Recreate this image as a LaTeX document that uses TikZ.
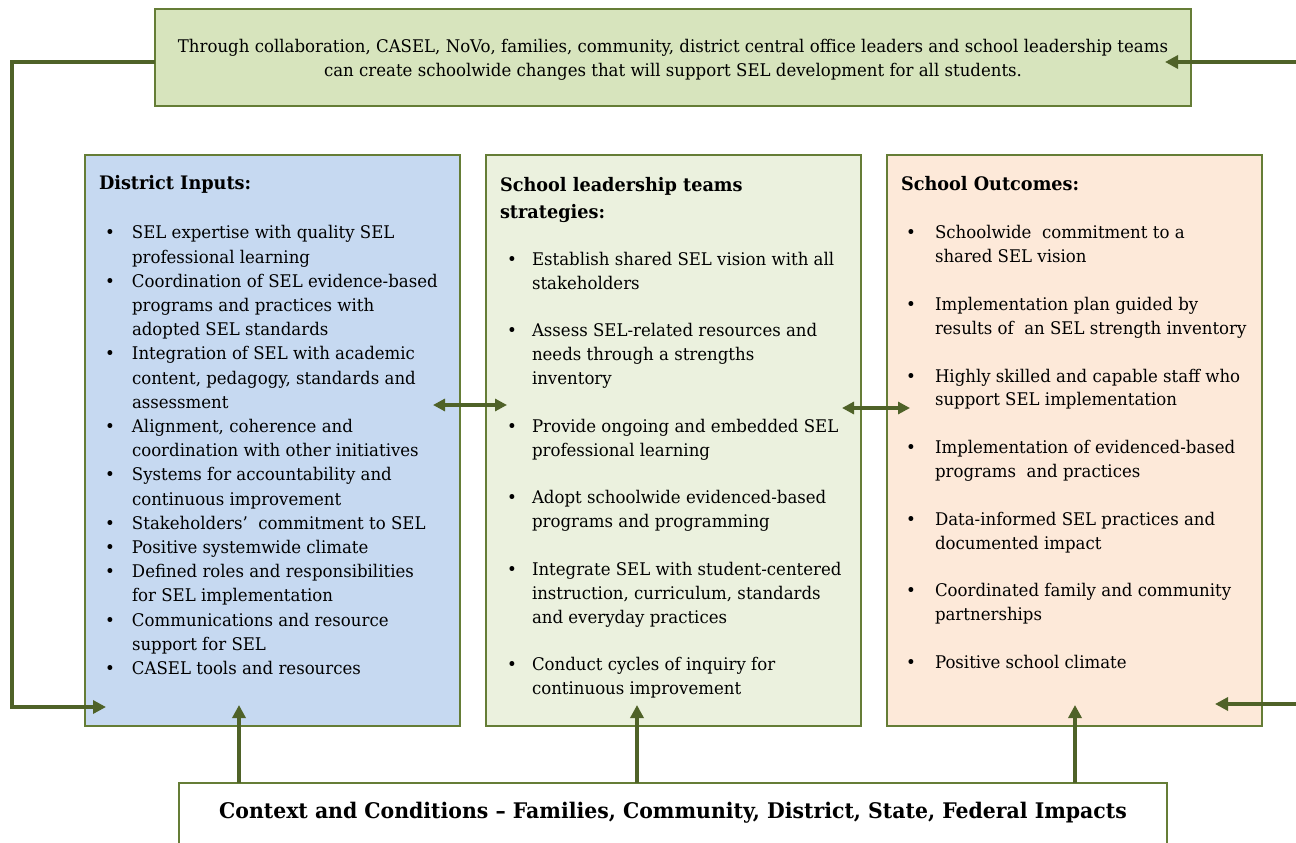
\documentclass[tikz,border=0pt]{standalone}
\usepackage{fontspec}
\setmainfont{DejaVu Serif}[FakeStretch=0.95]
\usetikzlibrary{arrows.meta}
\definecolor{bordc}{HTML}{657D36}
\definecolor{arrc}{HTML}{4F6228}
\definecolor{topfill}{HTML}{D7E4BD}
\definecolor{bluefill}{HTML}{C6D9F1}
\definecolor{greenfill}{HTML}{EBF1DE}
\definecolor{peachfill}{HTML}{FDE9D9}
\newcommand\bi[2]{\hspace*{#1pt}\makebox[#2pt][l]{•}}
\newcommand\bc[1]{\hspace*{#1pt}}
\newcommand\ttl[1]{{\fontsize{18.6}{24}\selectfont\bfseries #1}}
\tikzset{
  panel/.style={draw=bordc, line width=1.6pt, inner sep=0pt, outer sep=0pt, anchor=north west},
  conn/.style={draw=arrc, line width=4.2pt},
  tipend/.style={-{Triangle[length=13pt,width=13pt]}},
  bothends/.style={{Triangle[length=12pt,width=12pt]}-{Triangle[length=12pt,width=12pt]}},
  body/.style={align=left, inner sep=0pt, outer sep=0pt, anchor=base west},
}
\begin{document}
\begin{tikzpicture}[x=1pt,y=-1pt]
\useasboundingbox (0,0) rectangle (1296,843);
% boxes
\node[panel, fill=topfill, minimum width=1036pt, minimum height=97pt] (top) at (155,9) {};
\node[align=center, inner sep=0pt, font=\fontsize{17.45}{24}\selectfont] (toptext) at (673,60)
  {Through collaboration, CASEL, NoVo, families, community, district central office leaders and school leadership teams\\
   can create schoolwide changes that will support SEL development for all students.};
\node[panel, fill=bluefill, minimum width=375pt, minimum height=571pt] (din) at (85,155) {};
\node[panel, fill=greenfill, minimum width=375pt, minimum height=571pt] (sls) at (486,155) {};
\node[panel, fill=peachfill, minimum width=375pt, minimum height=571pt] (sout) at (887,155) {};
\node[panel, fill=white, line width=1.3pt, minimum width=988pt, minimum height=80pt] (ctx) at (179,783) {};
\node[inner sep=0pt, font=\fontsize{21.5}{24}\selectfont\bfseries] (ctxtext) at (673,813)
  {Context and Conditions – Families, Community, District, State, Federal Impacts};
% box 1 text (anchored at the baseline of its last line)
\node[body, font=\fontsize{17.45}{24.2}\selectfont] (dintext) at (99,674.5)
 {\ttl{District Inputs:}\\[25pt]
  \bi{6}{27}SEL expertise with quality SEL\\
  \bc{33}professional learning\\
  \bi{6}{27}Coordination of SEL evidence-based\\
  \bc{33}programs and practices with\\
  \bc{33}adopted SEL standards\\
  \bi{6}{27}Integration of SEL with academic\\
  \bc{33}content, pedagogy, standards and\\
  \bc{33}assessment\\
  \bi{6}{27}Alignment, coherence and\\
  \bc{33}coordination with other initiatives\\
  \bi{6}{27}Systems for accountability and\\
  \bc{33}continuous improvement\\
  \bi{6}{27}Stakeholders’\ \ commitment to SEL\\
  \bi{6}{27}Positive systemwide climate\\
  \bi{6}{27}Defined roles and responsibilities\\
  \bc{33}for SEL implementation\\
  \bi{6}{27}Communications and resource\\
  \bc{33}support for SEL\\
  \bi{6}{27}CASEL tools and resources};
% box 2 text
\node[body, font=\fontsize{17.45}{24}\selectfont] (slstext) at (500,694.5)
 {\ttl{School leadership teams}\\[3pt]
  \ttl{strategies:}\\[23pt]
  \bi{7}{25}Establish shared SEL vision with all\\
  \bc{32}stakeholders\\[23.5pt]
  \bi{7}{25}Assess SEL-related resources and\\
  \bc{32}needs through a strengths\\
  \bc{32}inventory\\[23.5pt]
  \bi{7}{25}Provide ongoing and embedded SEL\\
  \bc{32}professional learning\\[23.5pt]
  \bi{7}{25}Adopt schoolwide evidenced-based\\
  \bc{32}programs and programming\\[23.5pt]
  \bi{7}{25}Integrate SEL with student-centered\\
  \bc{32}instruction, curriculum, standards\\
  \bc{32}and everyday practices\\[23.5pt]
  \bi{7}{25}Conduct cycles of inquiry for\\
  \bc{32}continuous improvement};
% box 3 text
\node[body, font=\fontsize{17.45}{23.8}\selectfont] (souttext) at (901,668.5)
 {\ttl{School Outcomes:}\\[24.5pt]
  \bi{5}{29}Schoolwide\ \ commitment to a\\
  \bc{34}shared SEL vision\\[24pt]
  \bi{5}{29}Implementation plan guided by\\
  \bc{34}results of\ \ an SEL strength inventory\\[24pt]
  \bi{5}{29}Highly skilled and capable staff who\\
  \bc{34}support SEL implementation\\[24pt]
  \bi{5}{29}Implementation of evidenced-based\\
  \bc{34}programs\ \ and practices\\[24pt]
  \bi{5}{29}Data-informed SEL practices and\\
  \bc{34}documented impact\\[24pt]
  \bi{5}{29}Coordinated family and community\\
  \bc{34}partnerships\\[24pt]
  \bi{5}{29}Positive school climate};
% connector coordinates
\coordinate (lcorner1) at (12,62);
\coordinate (lcorner2) at (12,707);
\coordinate (ltip) at (106,707);
\coordinate (rtopstart) at (1296,62);
\coordinate (rtoptip) at (1165,62);
\coordinate (rbotstart) at (1296,704);
\coordinate (rbottip) at (1215,704);
\coordinate (up1) at (239,705);
\coordinate (up2) at (637,705);
\coordinate (up3) at (1075,705);
\coordinate (da1) at (433,405);
\coordinate (db1) at (507,405);
\coordinate (da2) at (842,408);
\coordinate (db2) at (910,408);
% connectors
\draw[conn, tipend] (top.west |- lcorner1) -- (lcorner1) -- (lcorner2) -- (ltip);
\draw[conn, tipend] (rtopstart) -- (rtoptip);
\draw[conn, tipend] (rbotstart) -- (rbottip);
\draw[conn, tipend] (ctx.north -| up1) -- (up1);
\draw[conn, tipend] (ctx.north -| up2) -- (up2);
\draw[conn, tipend] (ctx.north -| up3) -- (up3);
\draw[conn, line width=3.5pt, bothends] (da1) -- (db1);
\draw[conn, line width=3.5pt, bothends] (da2) -- (db2);
\end{tikzpicture}
\end{document}
